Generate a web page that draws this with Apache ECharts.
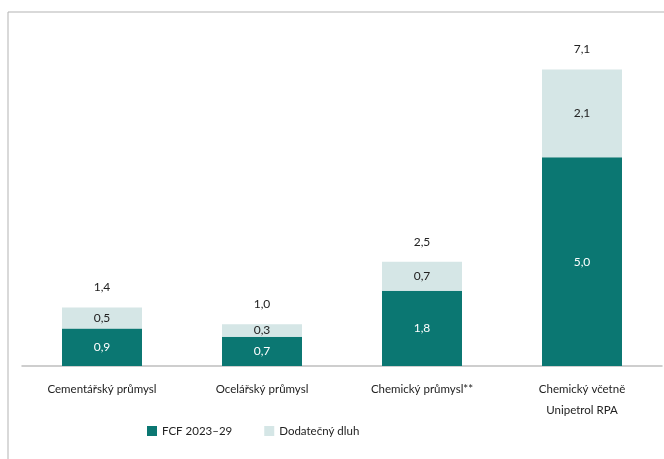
<!DOCTYPE html>
<html><head><meta charset="utf-8">
<script src="https://cdn.jsdelivr.net/npm/echarts@6/dist/echarts.min.js"></script>
<style>html,body{margin:0;padding:0;background:#fff}#c{width:664px;height:459px}</style>
</head><body><div id="c"></div>
<script>
const categories = ['Cementářský průmysl', 'Ocelářský průmysl', 'Chemický průmysl**', 'Chemický včetně\nUnipetrol RPA'];
const fcf = [0.9, 0.7, 1.8, 5.0];
const dluh = [0.5, 0.3, 0.7, 2.1];
const totals = [1.4, 1.0, 2.5, 7.1];
const seriesNames = ['FCF 2023–29', 'Dodatečný dluh'];

const fmt = p => p.value.toFixed(1).replace('.', ',');
const font = 'Lato, sans-serif';
const chart = echarts.init(document.getElementById('c'));
chart.setOption({
  animation: false,
  textStyle: { fontFamily: font },
  grid: { left: 22, right: 2, top: 32, bottom: 93 },
  legend: {
    data: seriesNames, left: 142, top: 420, itemWidth: 10, itemHeight: 10, itemGap: 32,
    icon: 'rect', textStyle: { fontSize: 11.5, color: '#222', fontFamily: font }
  },
  xAxis: {
    type: 'category', data: categories,
    axisLine: { lineStyle: { color: '#bfbfbf', width: 1.5 } },
    axisTick: { show: false },
    axisLabel: { fontSize: 11.5, color: '#222', margin: 13, lineHeight: 21, fontFamily: font }
  },
  yAxis: { type: 'value', min: 0, max: 8, show: false, splitLine: { show: false } },
  series: [
    {
      name: seriesNames[0], type: 'bar', stack: 's', data: fcf, barWidth: '50%',
      itemStyle: { color: '#0b7772' },
      label: { show: true, position: 'inside', color: '#fff', fontSize: 12, formatter: fmt, fontFamily: font }
    },
    {
      name: seriesNames[1], type: 'bar', stack: 's', data: dluh, barWidth: '50%',
      itemStyle: { color: '#d5e6e6' },
      label: { show: true, position: 'inside', color: '#222', fontSize: 12, formatter: fmt, fontFamily: font }
    },
    {
      name: 'total', type: 'bar', data: totals, barWidth: '50%', barGap: '-100%', z: 0,
      itemStyle: { color: 'rgba(0,0,0,0)' }, silent: true,
      label: { show: true, position: 'top', distance: 14, color: '#222', fontSize: 12, formatter: fmt, fontFamily: font }
    }
  ],
  graphic: [
    { type: 'line', shape: { x1: 8, y1: 12, x2: 8, y2: 459 }, style: { stroke: '#b3b3b3', lineWidth: 1 } },
    { type: 'line', shape: { x1: 8, y1: 12, x2: 664, y2: 12 }, style: { stroke: '#b3b3b3', lineWidth: 1 } }
  ]
});
</script></body></html>
